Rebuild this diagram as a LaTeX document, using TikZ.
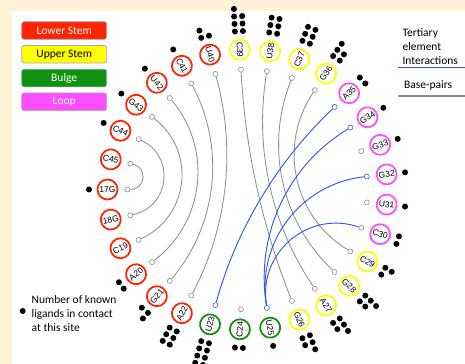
\documentclass[tikz,border=0pt]{standalone}
\usepackage{fontspec}
\setmainfont{Carlito}
\newfontfamily\ntfont{Liberation Sans}
\usetikzlibrary{calc,positioning}
\definecolor{PageCream}{HTML}{FDF2D6}
\definecolor{StemRed}{HTML}{FF2400}
\definecolor{StemYellow}{HTML}{FFFF00}
\definecolor{BulgeGreen}{HTML}{0F930F}
\definecolor{LoopPink}{HTML}{FF4DFF}
\definecolor{PairGrey}{HTML}{8C8C8C}
\definecolor{TertBlue}{HTML}{3355F2}
\definecolor{KeyEdge}{HTML}{9CA9C2}
\tikzset{
  ntbox/.style={
    circle,
    draw,
    line width=1.5pt,
    fill=white,
    minimum size=0.6cm,
    inner sep=0pt,
    font=\ntfont\fontsize{7.3}{8}\selectfont
  },
  lowstem/.style={ntbox, draw=StemRed},
  upstem/.style={ntbox, draw=StemYellow},
  bulgent/.style={ntbox, draw=BulgeGreen},
  loopnt/.style={ntbox, draw=LoopPink},
  port/.style={
    circle,
    draw=PairGrey,
    fill=white,
    line width=0.5pt,
    minimum size=4.3pt,
    inner sep=0pt
  },
  tport/.style={port, draw=TertBlue},
  bpline/.style={draw=PairGrey, line width=0.7pt},
  tline/.style={draw=TertBlue, line width=0.8pt},
  keybox/.style={
    draw=KeyEdge,
    rounded corners=2pt,
    line width=0.6pt,
    minimum width=2.55cm,
    minimum height=0.53cm,
    inner sep=0pt,
    font=\fontsize{9.8}{11.8}\selectfont
  },
  keytext/.style={
    align=left,
    inner sep=0pt,
    font=\fontsize{9.8}{11.8}\selectfont
  },
  ligand/.style={fill=black}
}

\begin{document}
\begin{tikzpicture}[x=0.03cm, y=0.03cm]

  % page
  \fill[PageCream] (0,0) rectangle (465,364);
  \fill[white] (12,0) rectangle (465,353);
  \useasboundingbox (0,0) rectangle (465,364);

  \coordinate (ctr) at (247.5,174.5);

  % colour key
  \node[keybox, fill=StemRed, text=white] (lowkey) at (64.2,333.5) {Lower Stem};
  \node[keybox, fill=StemYellow, below=0.162cm of lowkey] (upkey) {Upper Stem};
  \node[keybox, fill=BulgeGreen, text=white, below=0.162cm of upkey] (bulgekey) {Bulge};
  \node[keybox, fill=LoopPink, text=white, below=0.162cm of bulgekey] (loopkey) {Loop};

  % line key
  \node[keytext, anchor=west] (tertkey) at (402.3,317.3) {Tertiary\\element\\Interactions};
  \node[keytext, anchor=west] (bpkey) at (404,279) {Base-pairs};
  \coordinate (tstart) at (398,296.7);
  \coordinate (tend) at (465,296.7);
  \coordinate (bstart) at (398,268);
  \coordinate (bend) at (465,268);
  \draw[tline, line width=1.3pt] (tstart) -- (tend);
  \draw[bpline, line width=1.3pt] (bstart) -- (bend);

  % ligand key
  \fill[ligand] (22.7,53) circle (3);
  \node[keytext, anchor=west] (ligkey) at (31.5,50.7) {Number of known\\ligands in contact\\at this site};

  % nucleotides and their ports
  \foreach \num/\lab/\kind/\pkind in {
    17/17G/lowstem/port, 18/18G/lowstem/port, 19/C19/lowstem/port,
    20/A20/lowstem/port, 21/G21/lowstem/port, 22/A22/lowstem/port,
    23/U23/bulgent/tport, 24/C24/bulgent/port, 25/U25/bulgent/tport,
    26/G26/upstem/port, 27/A27/upstem/port, 28/G28/upstem/port,
    29/C29/upstem/port, 30/C30/loopnt/port, 31/U31/loopnt/port,
    32/G32/loopnt/tport, 33/G33/loopnt/port, 34/G34/loopnt/tport,
    35/A35/loopnt/tport, 36/G36/upstem/port, 37/C37/upstem/port,
    38/U38/upstem/port, 39/C39/upstem/port, 40/U40/lowstem/port,
    41/C41/lowstem/port, 42/U42/lowstem/port, 43/G43/lowstem/port,
    44/C44/lowstem/port, 45/C45/lowstem/port}
  {
    \pgfmathsetmacro\ang{180+(\num-17)*360/29}
    \pgfmathsetmacro\rot{cos(\ang)<0 ? \ang-180 : \ang}
    \node[\kind, rotate=\rot] (nt\num) at ($(ctr)+(\ang:140)$) {\lab};
    \node[\pkind] (pt\num) at ($(ctr)+(\ang:120)$) {};
  }

  % base-pairs and tertiary contacts
  \foreach \i/\j/\how in {
    17/45/bpline, 18/44/bpline, 19/43/bpline, 20/42/bpline,
    21/41/bpline, 22/40/bpline, 26/39/bpline, 27/38/bpline,
    28/37/bpline, 29/36/bpline,
    23/35/tline, 25/34/tline, 25/32/tline, 25/30/tline}
  {
    \pgfmathsetmacro\ai{180+(\i-17)*360/29}
    \pgfmathsetmacro\aj{180+(\j-17)*360/29}
    \pgfmathsetmacro\half{min(abs(\aj-\ai),360-abs(\aj-\ai))/2}
    \pgfmathsetmacro\loose{(4/3)*tan(45-\half/2)/(0.783*cos(\half))}
    \draw[\how] (pt\i) to[out=\ai+180, in=\aj+180, looseness=\loose] (pt\j);
  }

  % ligand counts
  \foreach \num/\cnt in {
    17/1, 20/2, 21/3, 22/6, 23/8, 24/2, 25/1, 26/5, 27/5, 28/5,
    29/3, 30/2, 31/1, 32/1, 33/1, 34/1, 35/2, 36/5, 37/6, 38/6,
    39/7, 40/3, 41/1, 42/1, 43/1, 44/1}
  {
    \pgfmathsetmacro\ang{180+(\num-17)*360/29}
    \foreach \k in {1,...,\cnt} {
      \pgfmathsetmacro\row{int((\k-1)/2)}
      \pgfmathsetmacro\col{mod(\k-1,2)}
      \pgfmathsetmacro\tan{\cnt==1 ? 0 : ((\k==\cnt && mod(\cnt,2)==1) ? 3.8 : (\col-0.5)*8)}
      \fill[ligand] ($(ctr)+(\ang:158.5+7.5*\row)+(\ang+90:\tan)$) circle (3);
    }
  }

\end{tikzpicture}
\end{document}
